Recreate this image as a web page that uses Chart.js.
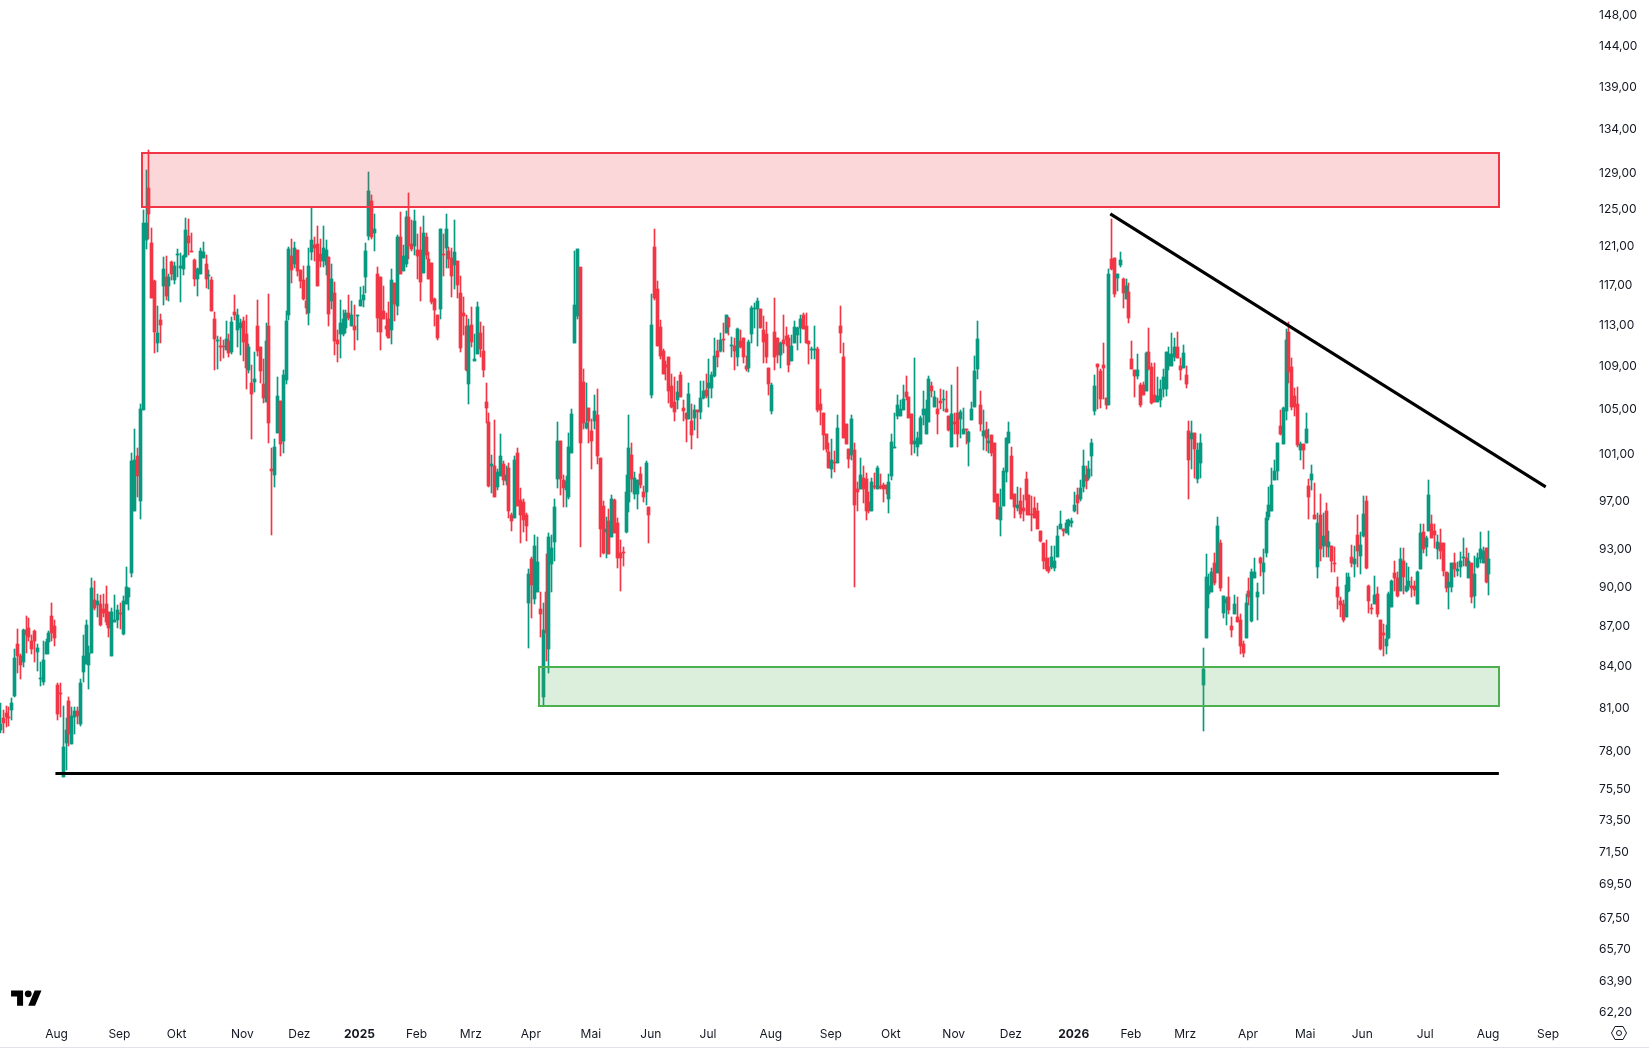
<!DOCTYPE html>
<html>
<head>
<meta charset="utf-8">
<title>Chart</title>
<script src="https://cdn.jsdelivr.net/npm/chart.js@4/dist/chart.umd.min.js"></script>
<style>
  html, body { margin: 0; padding: 0; background: #fff; overflow: hidden; }
  #wrap { position: relative; width: 1649px; height: 1048px; }
  #bottomLine { position: absolute; left: 0; top: 1047px; width: 1649px; height: 1px; background: #e0e3eb; }
  #logo { position: absolute; left: 11px; top: 987px; }
  #gear { position: absolute; left: 1610px; top: 1024px; }
</style>
</head>
<body>
<div id="wrap">
  <canvas id="chart" width="1649" height="1048"></canvas>
  <svg id="logo" width="31" height="24" viewBox="0 0 36 28"><path fill="#000" d="M14 22H7V11H0V4h14v18zM28 22h-8l7.5-18h8L28 22z"/><circle fill="#000" cx="20" cy="8" r="4"/></svg>
  <svg id="gear" width="18" height="18" viewBox="0 0 18 18" fill="none" stroke="#131722" stroke-width="1"><path d="M5 2.5h8L16.5 9 13 15.5H5L1.5 9z"/><circle cx="9" cy="9" r="2.5"/></svg>
  <div id="bottomLine"></div>
</div>
<script>
const opens = [
79.5,80.3,80.7,80.4,80.9,81.9,85.7,84.8,84.3,86.7,
86.9,85.9,86.6,85.1,83.1,82.9,84.9,85.8,87.8,87.0,
82.7,82.1,76.3,78.6,81.5,78.5,80.4,80.8,79.9,83.6,
84.2,84.1,85.0,89.0,88.6,88.7,88.3,88.7,88.1,84.8,
87.3,87.5,88.0,86.4,88.7,89.2,91.1,96.2,100.9,97.0,
105,121.7,127.3,121.4,117.4,111.3,113.5,116.9,117.9,116.9,
119.4,117.5,120.1,118.8,118.7,119.9,122.1,120.6,119.6,117.6,
118.2,119.8,119.2,118,117.5,113.6,111.5,111,110.9,110.6,
111.5,110.4,114.3,112.5,112.7,113.4,112.2,108.7,107.5,107.6,
112.9,110.9,107.4,105.7,112.9,99.7,99.2,102.9,105.8,102.2,
107.8,114,120,119.2,120.7,118.6,117.5,115.4,114.2,120.4,
121.2,121.3,120.2,119.5,119.1,119.9,115.4,116.2,111.6,112.2,
112.2,112.7,114.2,112.9,112.9,113.9,114.9,115.5,117.9,122.1,
125.9,122.5,118.2,117.9,114.4,112.9,113.6,112.5,117.2,114.9,
122,118.5,119.2,124.2,121.3,121.1,120.7,120.7,118.3,122,
119.7,119.3,115.6,114,114.6,120.2,120.9,120.5,119.8,119.1,
119.5,116.2,114.2,112.9,107.4,113,109.6,110.2,112.3,110.5,
105.7,103.9,100,100,98.2,99.1,100.2,98.7,99.8,95.8,
95.6,101.1,97.1,96.9,95.8,88.8,92.2,89.1,89.6,88.3,
81.8,89.6,85.3,91.8,93.6,98.9,102.2,98.8,97.9,97.3,
101.1,111.3,113.9,118.9,107.6,103.4,105.2,103.1,104,104.5,
100.7,96.6,94.4,95.3,94,97.1,95.2,92.7,92.8,94.4,
96.9,101,97.6,97.6,99.3,97.8,97.8,96.5,106.4,121,
116.6,112.8,110.5,109.2,109.9,107.2,105.7,105.9,108.2,105.2,
104.7,104.2,104,104.3,105,104.8,106.1,106.8,107,107,
108.1,110.5,110.5,111.7,112.3,113.7,111,111,109.9,111.5,
111.8,109.1,108.9,112.2,114.6,114.6,114.6,112.5,112.2,108.9,
104.9,112.4,111.8,110.1,111.6,112,111.8,109.6,111.3,112.1,
112.7,114,112.9,111.5,110.6,110.6,110.7,105.5,104.7,102.8,
101.2,99.7,100.35,100.3,112.9,109.9,103.7,101.5,101,101.4,
98,98,99,98.9,96.9,96.2,98.3,98,98.3,98.4,
98.4,97.2,99.1,101.6,104.4,104.4,105,106.6,106.2,104.6,
101.9,101.7,101.9,104.5,102.8,103.9,107.2,105.3,105.1,105.8,
105.9,105.1,104.4,101.7,103.9,104.7,104.2,102.8,103.3,102.1,
104.1,105.3,108.8,105.4,102.6,103.2,102,102.7,102,97.6,
95.4,96.6,99.5,102,100.9,97.6,96.4,97,96.4,98.9,
97.5,95.85,96.4,96.2,94.5,93.5,92.3,91.6,91.6,91.5,
92.4,94.7,94.7,94.3,94.9,95.2,96.2,97.5,97.2,98.2,
99.2,99,100.9,104.9,109.3,108.6,109.2,106.1,105.4,119.7,
119.8,117.8,119.1,117.7,115.6,116.3,109.7,108.7,108.1,107.3,
107.3,106.7,110.4,109,106.4,105.7,105.9,106.9,106.9,109.1,
109.1,109.9,110.9,109.1,108.9,108.2,103.1,102.4,102.9,98.9,
100.3,82.7,86.1,89.5,89.6,91.9,91.1,93.5,88,88.8,
89.2,87,87.9,87.7,87.5,85.7,86.1,89.7,87.4,90.7,
89.2,92.3,91.2,92.7,95.7,96.2,98.8,99.6,103.5,101.9,
104.9,112.4,109,106.3,105.5,101.4,101.9,102,98.3,98.8,
95.8,91.6,95.8,93.3,96.2,93.2,93.3,91.9,90,88.9,
88.7,87.7,89.7,92.4,91.8,94.2,92.5,94.1,97,90.1,
88.4,88.7,89.5,87.5,86.5,85.5,86.1,88.5,91.1,90.7,
89.7,92.1,89.7,90.1,90.1,90.1,88.7,91.4,94.4,93.2,
94.5,95.1,94.5,93,93.5,93.5,91.2,90,90,91.9,
91.3,91.6,92.3,92.3,90.7,91.9,89.3,91.6,92.2,91.9,
93.1,91
];
const closes = [
79.9,80.0,80.4,80.3,81.4,84.6,84.8,84.1,86.7,86.3,
86.2,85.3,85.9,85.4,83.15,84.5,85.8,86.5,86.5,86.1,
80.6,82.0,78.3,79.5,79.2,80.5,80.8,80.5,82.8,84.8,
87.1,85.0,89.9,88.4,88.9,87.1,88.0,87.3,86.9,88.1,
87.5,88.2,87.9,88.9,90.0,89.9,100.4,100.5,99.1,105.1,
123.5,123.5,124.5,115.7,112.4,112.3,113,118.7,115.9,117.9,
118.2,119,120.2,119,120,122.8,121.4,120.4,117.6,118.7,
120.6,120.4,117.7,118.1,114.4,111.7,111.6,110.9,110.85,111.7,
110.3,113.3,114,114,113.2,111.4,108.9,110.9,106.5,107.9,
110.5,108.6,106.1,111.5,103.8,99.6,101.7,106.3,101.9,108.2,
113.4,120.8,118.6,120.9,118.5,117.4,115.6,114.7,119,121.7,
120.9,116.9,119.5,120.9,120.7,114.1,117.6,111.5,111.2,113.2,
113.6,114.2,113.7,114,112.5,114,115.5,116,120.5,127,
122,122.9,113.7,112.4,113.6,112.6,111.8,117.5,115.1,122,
118.2,120,124.2,121.1,120.8,123.7,120,117.3,122.4,120.1,
117.7,115.3,114.5,111.8,122.9,120.1,122.9,119.7,118,120.4,
117,110.8,113.9,108.7,112.9,111.4,109.7,114.8,110.7,108.7,
105.2,98.3,100.2,97.3,99.5,100.9,98.8,99.2,96.2,95.3,
100.5,96.6,95.8,95.4,94.9,91,90.2,93.3,92,87.9,
86.7,86.5,94,93.1,96.5,102.2,98.9,98.1,98.7,101.7,
104.6,115,120.8,102,103.8,103.8,104,102.2,104.9,100.9,
94.7,92.7,94.7,92.6,97.2,94.3,92.3,92.3,92.7,97.8,
101.6,98.9,99,98.8,98.4,97.3,100.3,95.8,113,115.7,
111,110,108.3,109,106.7,105.3,104.8,106.6,106.2,104.9,
104.2,106.5,102.7,105,104.8,106.1,106.7,106.3,107.5,108.2,
110,109.9,111.6,111.6,114,112.8,111.05,110.5,112.6,110.9,
109.9,108.8,111.4,114.7,114.7,115.4,112.7,111.4,109.9,107.4,
107.3,109.9,110.1,111.3,111.2,111.6,109.2,111,112.8,112.7,
113.6,112.6,111.3,111.2,110.7,110.7,105,105,102.7,101.5,
99.8,100.5,100.3,103.4,112.3,102.5,101.9,100.6,104.2,96.7,
97.8,99.2,98,96.2,96.2,98.6,98.2,99.8,98.1,98,
98,98.6,102.1,101.7,105.4,105.1,106,106.2,104.3,101.9,
102.2,102.5,104.3,105.1,105.1,107.9,106.7,106.2,104.6,105.6,
106,104.8,103.2,104.6,103.7,102.8,104.8,103.3,103.2,103,
105.1,108.6,111.7,103.7,103.1,102.5,102.2,101.1,96.9,95.5,
96.5,99.6,102.5,103,97.2,96.5,96.7,95.9,96.2,97.1,
95.8,95.8,95.6,94.7,93.7,92.1,91.4,91.3,92.4,92.1,
94.1,95.1,94.5,95.2,95.4,95.3,96.7,96.8,98.1,100,
98.7,99.7,102,107.2,109,106,108.9,105.4,118.2,118.7,
116.1,118.2,119.6,116.2,116.9,113.7,108.8,108.1,108.7,105.4,
106.4,110.3,108.8,105.6,105.7,106.3,106.9,108,110.4,110.2,
110.2,110.9,109.8,108.7,110.3,107.4,100.5,102.9,101.5,101.4,
102,83.8,90.8,90.1,91.2,90.3,94.9,89.9,89.3,89.1,
88.2,86.7,88.7,87.3,85.5,85,88.8,89.2,91.2,91.2,
89.6,91.9,91.9,95.6,96.7,98.4,99.6,102,102.8,105.2,
111.6,108.5,105.3,105.3,101.8,101.9,101.4,103.3,97.3,99.3,
95.5,95.2,93,94.1,93.3,93.6,92.1,91.85,89.2,88.6,
87.5,90.2,90.8,91.9,92.2,92.9,93.4,95.9,91.5,88.9,
88.3,89.4,87.9,85.3,86.3,86,89.5,90.5,90.7,89.3,
92.2,90.8,90.1,90.5,89.9,89.8,91.2,94.3,93,93.9,
97.5,93.9,94.2,93.6,92.9,91.3,89.9,90.4,91.9,91.4,
91.4,92.1,92.35,91.7,92.1,89.2,91,92.3,93,92.9,
90.4,92.2
];
const highs = [
81.4,80.9,81.2,81.1,81.7,85.3,86.8,84.9,86.8,87.8,
87.6,86.3,86.7,85.7,84.3,85.9,86.0,86.6,88.8,87.5,
82.8,82.8,81.2,80.3,81.8,81.1,81.1,81.1,83.1,86.3,
87.5,85.5,90.7,90.5,89.5,89.4,89.5,90.1,88.1,88.4,
89.4,88.6,88.8,89.3,91.6,89.9,101.1,103.3,101.6,105.5,
124.9,129.3,131.6,123,117.5,114.9,114.1,119.9,120,118.2,
119.5,119.4,120.8,120.3,120.1,124.1,123.9,122.5,119.7,118.8,
120.9,121.5,120.1,118.6,117.9,114.3,112,111.9,111.6,113.4,
112.2,113.8,116,114.6,113.6,113.8,114,111.2,109.2,110.4,
115.5,110.9,109.7,113.2,116.1,101.6,102.4,108,105.8,108.7,
114.4,121,121.8,121.5,120.7,118.6,119,117.8,120.9,125.3,
122,123.2,121.8,123.2,121.7,119.9,119.2,117.3,112.5,115.5,
114.5,114.5,116,115.4,115,114,116.8,116.9,121.4,129.1,
126.6,124.5,118.9,117.9,116.9,114.2,115.3,118.7,117.2,122.2,
124.7,121.2,124.8,126.8,123.8,124.9,122.3,123.1,124.3,122.4,
120.4,119.3,115.7,114,122.9,122.3,124.5,121,120.9,123.8,
119.5,118,115.8,114,113.6,114.8,112.2,115.3,113.3,112.9,
107.5,104.7,101,104.1,99.7,102.8,100.4,100,100.3,96,
100.9,101.6,98.1,97.2,96,91.4,92.4,94.2,94,89.6,
88.8,92.6,94.3,94.2,97.2,103.9,102.2,99.2,99.1,102.9,
105.1,120.6,120.8,118.9,108.8,107.5,105.2,104.2,106.4,106.9,
100.7,97,95.7,96.3,97.5,97.2,95.6,93.8,93.2,99.2,
104.5,102,99.5,98.8,99.9,98.3,100.4,96.5,116.1,122.9,
117.4,113.5,110.7,109.6,109.9,108.3,108,107.7,108.5,105.9,
104.7,107.5,105.5,105.4,105,107.7,107.7,108.3,109.7,108.5,
111.8,111.6,112.3,113.2,114,113.8,111.9,111.8,112.7,112.5,
111.8,110,111.6,114.9,115.2,115.7,114.6,113.9,113.3,108.9,
107.5,115.7,111.8,111.4,114,112.8,112.1,112.1,113.4,112.8,
114,114.2,114.2,111.5,110.9,112.9,110.9,106.9,104.7,102.8,
102,102.4,101.3,104.5,114.9,111.3,103.7,101.5,104.5,102,
98.6,100.7,100,99.4,97.8,99,99.4,100,99.3,98.5,
98.4,99.3,102.8,104.7,106.4,105.9,107.3,108.1,106.2,104.6,
109.8,103,104.4,106.7,105.9,108.1,107.6,106.7,106.1,106.9,
106.8,106.7,104.4,107.3,104.7,109,105,105.2,103.3,103.1,
105.7,110,113.4,106.7,105,103.9,103.3,102.7,102,97.6,
98,99.8,102.5,103.9,101.7,97.6,98.2,98.1,97.5,99.5,
97.5,97.4,97.3,96.8,94.5,93.5,93.8,92.3,93.3,93.3,
94.9,96.2,94.7,95.4,95.5,95.6,97.8,98.1,98.8,101.4,
100,100.4,102.4,108.2,109.3,108.8,111.3,106.1,118.7,123.9,
119.8,118.2,120.4,117.8,117.6,117.2,111.5,108.7,110.2,107.5,
107.6,110.4,112.7,109.4,109.4,108,107.8,108.8,110.4,110.9,
112.3,111.8,112.4,109.8,111.1,109.1,104,104,102.9,102,
102.8,85.4,92.6,91,91.5,92.7,95.7,93.8,89.3,89.2,
90.8,87.7,89.4,89.2,87.9,85.9,89.5,90.7,91.4,92.3,
90.3,92.4,93,96.1,98.2,99.8,100.5,102,105,105.3,
112.6,113.3,109.8,107,107.1,102.1,101.9,104.7,98.9,100.1,
98.5,96,97.6,96,96.8,94.5,93.3,93.2,90.8,89.2,
89,91.1,91.1,93.4,93.3,95.8,94.4,97.4,97.4,90.2,
88.7,90.9,90,87.5,87.2,87.1,89.6,90.6,92.1,91.2,
93.1,93.1,91.9,91.6,90.8,90.5,91.3,95.1,95.1,94.1,
98.8,95.8,95.1,94.2,94.7,93.5,91.2,91.1,91.9,92.7,
92,92.8,93.9,93.1,92.7,91.9,92.5,92.7,94.4,93.2,
93.1,94.5
];
const lows = [
79.3,79.3,79.7,79.8,80.2,81.8,83.5,83.1,84.0,85.0,
85.9,84.9,84.3,83.7,82.6,82.7,84.9,84.9,85.9,85.5,
80.2,80.4,76.3,76.8,78.4,78.5,79.2,79.9,79.8,82.9,
84.2,82.4,85.0,88.2,87.7,87.0,87.7,87.1,86.2,84.8,
87.3,86.9,86.8,86.3,88.7,88.2,90.8,96.2,97.3,95.5,
105,120.8,121.8,115.7,110.3,110.4,111.3,115,115.5,115.4,
117.5,117.1,117.9,115.3,118.1,119.9,120.1,120.4,116.9,115.9,
118.2,119.8,116.7,116.6,114.4,108.7,108.8,109.6,109.8,110.6,
109.9,110.2,113.5,110.9,110.1,109.6,106.9,108.4,102.4,106.6,
110,107.5,105.6,105.7,102,94.2,98.2,102.9,100.9,101.1,
107.4,113.5,117.2,118.8,118,116.7,115.5,114.1,113,119.6,
119.5,116.9,118.9,118.9,118.1,112.9,114.6,110.1,109.5,109.8,
112,112.3,113.5,112.9,110.6,111.6,114.9,114.8,116.2,121.7,
121.8,120.6,112.4,110.6,113.6,112,111.8,111.2,113.4,114,
118.2,118.5,118.9,119.7,120.5,120.1,117.6,115.4,118.3,119.7,
117.7,115.1,112.9,111.6,113.6,118,118.8,118.8,115.8,116.6,
115.7,110.4,112.1,108.6,105.5,110.9,109.6,110.2,109.9,108,
103.8,98.2,97.7,97.3,97.9,99.1,98.4,98.4,95.6,94.5,
95.6,96.6,93.5,94.4,93.7,85.4,87.6,88.7,89.6,86.2,
81.2,84.4,83.5,89.6,92.1,98.1,97.5,96.5,96.5,97.2,
101.1,111.3,113.6,93.2,103.3,103.3,102,99.7,103.3,100.2,
92.4,92.6,92.3,92.6,94,94.3,91.5,89.7,91.7,94.3,
96.1,97.8,97.2,96.3,98.1,96.9,96.7,93.5,106.1,115.5,
111,109.7,108.3,107.8,105.6,105.2,104,105.1,106.2,104,
102.1,104.2,101.5,103.2,102.5,104.2,106,106.1,105.3,106.1,
108,109,110.4,110.4,112.3,112.1,109.9,108.7,109.1,110.8,
109.4,108.6,108.5,111.3,112.7,111,112.7,109.4,109.4,106.4,
104.6,108.7,109.4,108.9,110.3,111,108.5,109.6,111.3,110.6,
111.3,112.6,111.3,109.3,109.7,109.7,104.8,103.6,101.4,101.2,
99.8,99,99.5,100.3,110.3,102.5,101.9,99.8,100.5,90,
96.2,98,96.8,95.4,96,96.2,98,98,98,96.9,
97.6,96,98.8,101.6,104.2,104.4,105,105.9,104.3,101,
101.1,100.9,101.9,103.6,102.8,103.9,106.2,105.3,102.8,105.1,
104.9,104.8,103.1,101.7,102.8,101.7,102.5,102.8,101.9,100,
104.1,105.3,107.9,103.1,101.4,101.3,101.1,100.9,96.9,95.5,
94.1,96.6,98.6,102,97.2,95.6,96.2,95.6,95.3,95.8,
95.8,94.5,95.6,94.7,93.6,91.4,91.3,91.1,91.4,91.3,
92.4,94.7,94.1,94.3,94.2,94.8,96.1,95.9,97,97.8,
98,98.8,99.1,104.5,105.1,105.2,106,105.1,105.4,118.6,
115.8,116.4,118.9,114.7,115.6,113.2,108.8,106.2,107.9,105.3,
106.4,106.7,108.7,105.5,105.7,105.7,105.3,106.2,106.3,108.7,
109.1,109.6,109.8,107.8,108.9,107,97.2,99.7,99,98.5,
99,79.4,86.1,88.4,89.6,90.2,91.1,89.7,87.6,87.1,
87.9,86.2,87.9,87.3,84.9,84.7,86.1,88.6,87.3,90.7,
87.5,90.9,89.5,92.4,95.4,96.2,98.8,98.8,102.7,101.9,
104.1,107.5,105,104.4,101.7,100.5,99.7,102,95.5,97.9,
95.5,90.7,92.1,92.4,92.4,92.4,91.2,91.2,88.3,87.7,
87.3,87.7,89.6,91.6,90.8,91.6,91,94,91.4,88,
87.9,88.7,87.7,85.2,84.8,84.9,86,88.5,89.7,89.2,
89.7,89.5,89.6,89.8,89.2,89.3,88.7,91.4,92.7,92.5,
94.5,93.9,93.1,92.2,92.2,90.9,89.6,88.3,89.6,90.8,
90.9,90.8,91.7,91.7,90.7,88.8,88.4,91.5,91.9,91.9,
90.3,89.4
];

// month ticks along the axis, as bar numbers
const tickBars = [19.7,41.7,61.7,84.7,104.7,125.7,145.7,164.7,185.7,206.7,227.7,247.7,269.7,290.7,311.7,333.7,353.7,375.7,395.7,414.7,436.7,456.7,476.7,498.7,520.7,541.7];
const tickNames = ['Aug','Sep','Okt','Nov','Dez','2025','Feb','Mrz','Apr','Mai','Jun','Jul','Aug','Sep','Okt','Nov','Dez','2026','Feb','Mrz','Apr','Mai','Jun','Jul','Aug','Sep'];
const priceTicks = [148,144,139,134,129,125,121,117,113,109,105,101,97,93,90,87,84,81,78,75.5,73.5,71.5,69.5,67.5,65.7,63.9,62.2];

// drawings on the chart: [first bar, last bar, upper price, lower price]
const supplyZone = [49.5, 524.5, 131.3, 125.3];
const demandZone = [188.6, 524.5, 84, 81.2];
const supportBars = [19.3, 524.5];
const supportPrices = [76.55, 76.55];
const trendBars = [388.5, 540.9];
const trendPrices = [124.5, 98.2];

const green = '#089981';
const red = '#F23645';
const colors = opens.map((o, i) => (closes[i] >= o ? green : red));
const pairUp = (xs, ys) => xs.map((x, i) => ({ x, y: ys[i] }));

const zonesPlugin = {
    id: 'zones',
    afterDatasetsDraw(chart) {
        const { ctx, scales: { x, y } } = chart;
        const zones = [
            { z: supplyZone, fill: 'rgba(242,54,69,0.2)', stroke: red },
            { z: demandZone, fill: 'rgba(76,175,80,0.2)', stroke: '#4CAF50' },
        ];
        ctx.save();
        for (const { z, fill, stroke } of zones) {
            const left = Math.round(x.getPixelForValue(z[0]));
            const right = Math.round(x.getPixelForValue(z[1]));
            const top = Math.round(y.getPixelForValue(z[2]));
            const bottom = Math.round(y.getPixelForValue(z[3]));
            ctx.fillStyle = fill;
            ctx.fillRect(left, top, right - left, bottom - top);
            ctx.strokeStyle = stroke;
            ctx.lineWidth = 2;
            ctx.strokeRect(left, top, right - left, bottom - top);
        }
        ctx.restore();
    },
};

// candles sit on whole pixels so the wicks stay sharp
const snapBarsPlugin = {
    id: 'snapBars',
    beforeDatasetsDraw(chart) {
        for (const index of [0, 1]) {
            for (const el of chart.getDatasetMeta(index).data) {
                el.x = Math.round(el.x - 0.5) + 0.5;
                el.y = Math.round(el.y);
                el.base = Math.round(el.base);
                if (el.base === el.y) el.base = el.y + 1;
            }
        }
    },
};

const isYearTick = (value) => /^\d/.test(tickNames[tickBars.indexOf(value)] ?? '');

new Chart(document.getElementById('chart'), {
    data: {
        datasets: [
            {
                type: 'bar',
                data: opens.map((o, i) => ({ x: i, y: [lows[i], highs[i]] })),
                backgroundColor: colors,
                barThickness: 1,
                grouped: false,
                order: 3,
            },
            {
                type: 'bar',
                data: opens.map((o, i) => ({ x: i, y: [Math.min(o, closes[i]), Math.max(o, closes[i])] })),
                backgroundColor: colors,
                barThickness: 3,
                minBarLength: 1,
                grouped: false,
                order: 2,
            },
            {
                type: 'line',
                data: pairUp(supportBars, supportPrices),
                borderColor: '#000',
                borderWidth: 3,
                pointRadius: 0,
                order: 1,
            },
            {
                type: 'line',
                data: pairUp(trendBars, trendPrices),
                borderColor: '#000',
                borderWidth: 3,
                pointRadius: 0,
                order: 1,
            },
        ],
    },
    options: {
        responsive: false,
        animation: false,
        events: [],
        layout: { padding: 0 },
        plugins: { legend: { display: false }, tooltip: { enabled: false } },
        scales: {
            x: {
                type: 'linear',
                offset: false,
                min: -0.1,
                max: 556.4,
                grid: { display: false, drawTicks: false },
                border: { display: false },
                afterBuildTicks: (axis) => { axis.ticks = tickBars.map((value) => ({ value })); },
                afterFit: (axis) => {
                    axis.height = 28;
                    axis.paddingLeft = 0;
                    axis.paddingRight = 0;
                },
                ticks: {
                    autoSkip: false,
                    maxRotation: 0,
                    padding: 7,
                    color: '#131722',
                    font: (ctx) => ({
                        family: 'Inter',
                        size: 12,
                        weight: ctx.tick && isYearTick(ctx.tick.value) ? '700' : '400',
                    }),
                    callback: (value) => tickNames[tickBars.indexOf(value)],
                },
            },
            y: {
                type: 'logarithmic',
                position: 'right',
                min: 61.78,
                max: 149.94,
                grid: { display: false, drawTicks: false },
                border: { display: false },
                afterBuildTicks: (axis) => { axis.ticks = priceTicks.map((value) => ({ value })); },
                afterFit: (axis) => {
                    axis.width = 59;
                    axis.paddingTop = 0;
                    axis.paddingBottom = 0;
                },
                ticks: {
                    autoSkip: false,
                    padding: 9,
                    color: '#131722',
                    font: { family: 'Inter', size: 12 },
                    callback: (value) => value.toFixed(2).replace('.', ','),
                },
            },
        },
    },
    plugins: [zonesPlugin, snapBarsPlugin],
});
</script>
</body>
</html>
